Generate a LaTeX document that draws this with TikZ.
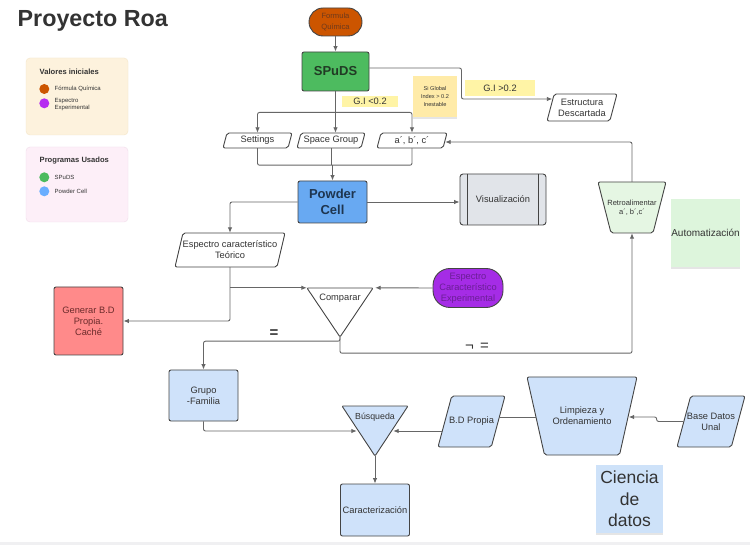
\documentclass[tikz,border=0pt]{standalone}
\usepackage{fontspec}
\setmainfont{Liberation Sans}
\usetikzlibrary{arrows.meta, shadows}
\definecolor{linec}{HTML}{666666}
\definecolor{bordc}{HTML}{444444}
\definecolor{textc}{HTML}{333333}
\definecolor{formc}{HTML}{CC5500}
\definecolor{formt}{HTML}{6E3A1C}
\definecolor{spudc}{HTML}{4DBB5F}
\definecolor{spudt}{HTML}{213A24}
\definecolor{pcc}{HTML}{68A9F2}
\definecolor{pct}{HTML}{1E3550}
\definecolor{visc}{HTML}{E1E4E9}
\definecolor{purc}{HTML}{A52CE6}
\definecolor{purt}{HTML}{6B1E96}
\definecolor{genc}{HTML}{FF8A8A}
\definecolor{gent}{HTML}{6B2B2B}
\definecolor{lbc}{HTML}{CFE2FA}
\definecolor{retc}{HTML}{E5F6E3}
\definecolor{autc}{HTML}{DDF5DC}
\definecolor{ciec}{HTML}{CEE2F9}
\definecolor{yel}{HTML}{FFF4A6}
\definecolor{stick}{HTML}{FFEBA8}
\definecolor{legA}{HTML}{FDF2DD}
\definecolor{legAb}{HTML}{F4E5C8}
\definecolor{legB}{HTML}{FDEFF8}
\definecolor{legBb}{HTML}{F1DDEA}
\definecolor{dotor}{HTML}{CC5500}
\definecolor{dotpu}{HTML}{B62CF0}
\definecolor{dotgr}{HTML}{4CBB5E}
\definecolor{dotbl}{HTML}{6AAEFF}
\definecolor{stripc}{HTML}{F0F0F2}
\newcommand\fsz[2]{\fontsize{#1pt}{#2pt}\selectfont}
% parallelogram: name, x, y, w, h, slant, draw opts, text, label opts
\newcommand\paranode[9]{%
  \filldraw[#7] ({#2-#4/2+#6},{#3-#5/2}) -- ({#2+#4/2},{#3-#5/2}) -- ({#2+#4/2-#6},{#3+#5/2}) -- ({#2-#4/2},{#3+#5/2}) -- cycle;
  \node[lbl, minimum width=#4, minimum height=#5, #9] (#1) at (#2,#3) {#8};}
% inverted trapezoid (wide top)
\newcommand\trapnode[9]{%
  \filldraw[#7] ({#2-#4/2},{#3-#5/2}) -- ({#2+#4/2},{#3-#5/2}) -- ({#2+#4/2-#6},{#3+#5/2}) -- ({#2-#4/2+#6},{#3+#5/2}) -- cycle;
  \node[lbl, minimum width=#4, minimum height=#5, #9] (#1) at (#2,#3) {#8};}
% inverted triangle: name, x, y, w, h, draw opts, text, text offset from top, label opts
\newcommand\trinode[9]{%
  \filldraw[#6] ({#2-#4/2},{#3-#5/2}) -- ({#2+#4/2},{#3-#5/2}) -- (#2,{#3+#5/2}) -- cycle;
  \node[inner sep=0, minimum width=#4, minimum height=#5] (#1) at (#2,#3) {};
  \node[lbl, #9] (#1t) at (#2,{#3-#5/2+#8}) {#7};}
\tikzset{
  lbl/.style={inner sep=0, align=center, font=\fsz{9.3}{11.2}, text=textc},
  shapeline/.style={draw=bordc, line width=0.9pt, rounded corners=2pt},
  box/.style={draw=bordc, line width=0.9pt, rounded corners=2pt, align=center, inner sep=0, font=\fsz{9.3}{11.2}, text=textc},
  ln/.style={draw=linec, line width=0.9pt, rounded corners=2pt},
  arr/.style={ln, -{Latex[length=5.5pt,width=4.5pt]}},
  sticky/.style={align=center, inner sep=0, text=textc, drop shadow={shadow xshift=0pt, shadow yshift=-2pt, opacity=0.2}},
  legtxt/.style={anchor=west, inner sep=0, align=left, font=\fsz{6}{7}, text=textc},
  legtit/.style={anchor=west, inner sep=0, font=\bfseries\fsz{7.6}{9}, text=textc},
  dot/.style={circle, inner sep=0, minimum size=10},
  hl/.style={inner sep=0, font=\fsz{9.3}{11}, text=textc}
}
\begin{document}
\begin{tikzpicture}[x=1pt,y=-1pt]
\useasboundingbox (0,0) rectangle (750,545);
\fill[white] (0,0) rectangle (750,545);
\fill[stripc] (0,541.5) rectangle (750,545);

% title
\node[anchor=base west, inner sep=0, font=\bfseries\fsz{23.3}{28}, text=textc] (title) at (17.5,26.7) {Proyecto Roa};

% legends
\node[draw=legAb, fill=legA, rounded corners=4pt, minimum width=102, minimum height=77, inner sep=0] (lgA) at (77,96.5) {};
\node[legtit] (lgAt) at (39.5,72) {Valores iniciales};
\node[dot, fill=dotor] (dA1) at (44.3,89) {};
\node[legtxt] (lgA1) at (54.5,89) {Fórmula Química};
\node[dot, fill=dotpu] (dA2) at (44.3,103.3) {};
\node[legtxt] (lgA2) at (54.5,104.4) {Espectro\\Experimental};

\node[draw=legBb, fill=legB, rounded corners=4pt, minimum width=102, minimum height=75, inner sep=0] (lgB) at (77,184.5) {};
\node[legtit] (lgBt) at (39.5,160.3) {Programas Usados};
\node[dot, fill=dotgr] (dB1) at (44.3,177.3) {};
\node[legtxt] (lgB1) at (54.5,177.3) {SPuDS};
\node[dot, fill=dotbl] (dB2) at (44.3,191.3) {};
\node[legtxt] (lgB2) at (54.5,191.3) {Powder Cell};

% top part
\node[box, fill=formc, rounded corners=14pt, minimum width=53, minimum height=28, font=\fsz{7.6}{11.5}, text=formt] (form) at (335.5,22) {Formula\\Química};
\node[box, fill=spudc, minimum width=67, minimum height=39, font=\bfseries\fsz{13}{15}, text=spudt] (spuds) at (335.5,71.5) {SPuDS};
\paranode{estr}{582}{107.5}{70}{27}{7.2}{shapeline, fill=white}{Estructura\\Descartada}{}
\node[hl, fill=yel, minimum width=70, minimum height=16] (gi2) at (500,88) {G.I >0.2};
\node[hl, fill=yel, minimum width=56, minimum height=11] (gi1) at (370,101.5) {G.I <0.2};
\node[sticky, fill=stick, minimum width=44, minimum height=41, font=\fsz{5.6}{8.3}] (si) at (435,96.5) {Si Global\\Index > 0.2\\Inestable};

\paranode{set}{257.5}{140.5}{69}{15}{4}{shapeline, fill=white}{Settings}{}
\paranode{spg}{331}{140.5}{68}{15}{4}{shapeline, fill=white}{Space Group}{}
\paranode{abc}{412}{140.5}{70}{15}{4}{shapeline, fill=white}{a´, b´, c´}{}

\node[box, fill=pcc, minimum width=69, minimum height=42, font=\bfseries\fsz{13}{15.7}, text=pct] (pc) at (332.5,202) {Powder\\Cell};
\node[box, fill=visc, rounded corners=3pt, minimum width=86, minimum height=51] (vis) at (503,199.5) {Visualización};
\draw[bordc, line width=0.9pt] ([xshift=8pt]vis.north west) -- ([xshift=8pt]vis.south west);
\draw[bordc, line width=0.9pt] ([xshift=-8pt]vis.north east) -- ([xshift=-8pt]vis.south east);

\paranode{esp}{230}{250}{110}{34}{8}{shapeline, fill=white}{Espectro característico\\Teórico}{}
\trinode{cmp}{340}{312.5}{66}{49}{shapeline, rounded corners=1pt, fill=white}{Comparar}{10}{}
\node[box, fill=purc, rounded corners=17pt, minimum width=70, minimum height=39, text=purt] (exp) at (468,288) {Espectro\\Característico\\Experimental};
\node[box, fill=genc, minimum width=69, minimum height=68, text=gent] (gen) at (88.5,321) {Generar B.D\\Propia.\\Caché};

\trapnode{retro}{632}{207.5}{68}{51}{13}{shapeline, fill=retc}{Retroalimentar\\a´, b´,c´}{font=\fsz{7.5}{8.7}}
\node[sticky, fill=autc, minimum width=67, minimum height=68, font=\fsz{10}{12}] (auto) at (705.5,233) {Automatización};

% bottom part
\node[box, fill=lbc, minimum width=69, minimum height=51] (grp) at (203.5,395.5) {Grupo\\-Familia};
\trinode{bus}{375}{431}{66}{50}{shapeline, rounded corners=1pt, fill=lbc}{Búsqueda}{11}{font=\fsz{8.8}{10}}
\node[box, fill=lbc, minimum width=69, minimum height=52] (car) at (375,510) {Caracterización};
\paranode{bdp}{471.5}{421.5}{67}{51}{13.7}{shapeline, fill=lbc}{B.D Propia}{}
\trapnode{lim}{582}{416}{110}{78}{17.5}{shapeline, fill=lbc}{Limpieza y\\Ordenamiento}{}
\paranode{bdu}{711}{421.5}{68}{51}{13.7}{shapeline, fill=lbc}{Base Datos\\Unal}{}
\node[sticky, fill=ciec, minimum width=67, minimum height=68, font=\fsz{17.5}{21.7}] (cie) at (629.5,499) {Ciencia\\de\\datos};

% labels on branches
\node[inner sep=0, font=\bfseries\fsz{15}{15}, text=textc] (eq) at (274,333.5) {=};
\node[inner sep=0, font=\fsz{15}{15}, text=textc] (neq) at (477,346.5) {¬\hspace{2pt} =};

% connectors
\draw[arr] (form.south) -- (spuds.north);
\draw[arr] ([yshift=3.5pt]spuds.east) -- ++(92,0) |- ([xshift=5.5pt,yshift=8.5pt]estr.west);
\draw[ln] (spuds.south) -- ++(0,21) coordinate (s1);
\draw[arr] (s1) -| (set.north);
\draw[arr] (s1) -| (abc.north);
\draw[arr] (s1) -- (s1 |- spg.north);
\draw[ln] (set.south) -- ++(0,17) coordinate (s2) -| (abc.south);
\draw[ln] (spg.south) -- (spg.south |- s2);
\draw[arr] (pc.north |- s2) -- (pc.north);
\draw[arr] (pc.west) -| (esp.north);
\draw[arr] (pc.east) -- (pc.east -| vis.west);
\draw[arr] (esp.south) |- (gen.east);
\draw[arr] (esp.south |- cmp.north) -- (cmp.north west);
\draw[arr] (exp.west) -- ([xshift=2pt]cmp.north east);
\draw[arr] (cmp.south) -- ++(0,4) -| (grp.north);
\draw[arr] (cmp.south) -- ++(0,16) -| (retro.south);
\draw[arr] (retro.north) |- ([xshift=-2pt,yshift=-1.5pt]abc.east);
\draw[arr] (grp.south) |- ([xshift=15pt]bus.west);
\draw[arr] ([xshift=4.3pt,yshift=-9.5pt]bdp.west) -- ([xshift=-15pt]bus.east);
\draw[ln] ([xshift=9pt,yshift=-1pt]lim.west) -- ([xshift=-27.6pt,yshift=-1pt]lim.west);
\draw[arr] ([xshift=6.85pt]bdu.west) -- ++(-27,0) |- ([xshift=-8.5pt,yshift=-1pt]lim.east);
\draw[arr] (bus.south) -- (car.north);
\end{tikzpicture}
\end{document}
